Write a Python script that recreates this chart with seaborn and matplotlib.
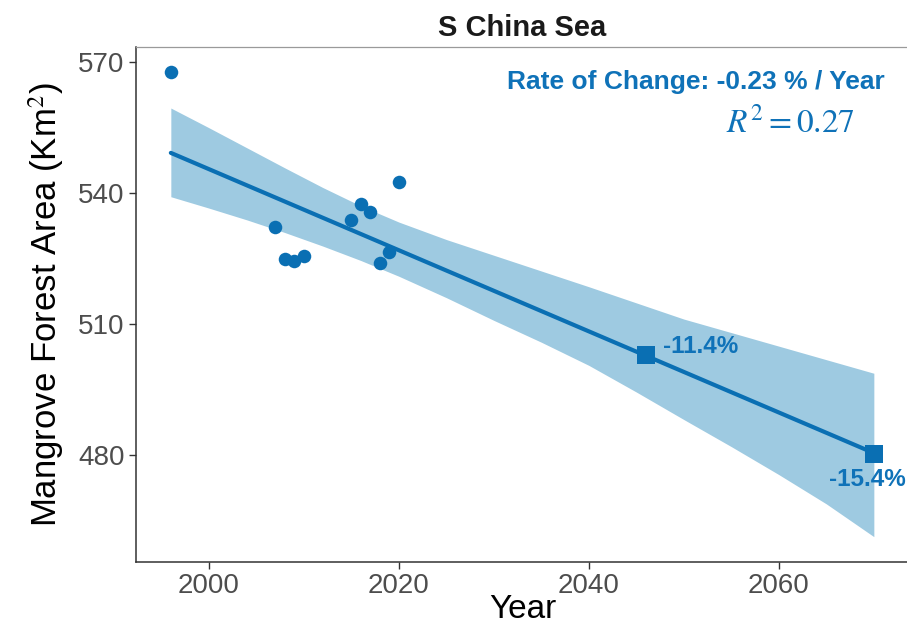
import numpy as np
import pandas as pd
import matplotlib
matplotlib.use("Agg")
import matplotlib.pyplot as plt
import seaborn as sns

# observed mangrove area (km2) per year
years = [1996, 2007, 2008, 2009, 2010, 2015, 2016, 2017, 2018, 2019, 2020]
area = [567.8, 532.2, 524.9, 524.6, 525.6, 533.9, 537.5, 535.7, 524.1, 526.6, 542.5]

# projected points on the trend line
proj_years = [2046, 2070]
proj_area = [502.9, 480.4]
proj_labels = ["-11.4%", "-15.4%"]

# confidence band
band_years = [1996, 2000, 2004, 2008, 2012, 2016, 2020, 2025, 2030, 2035,
              2040, 2045, 2050, 2055, 2060, 2065, 2070]
band_upper = [559.5, 555.0, 550.4, 545.8, 541.3, 537.1, 533.4, 529.4, 525.8, 522.2,
              518.6, 514.9, 511.2, 508.1, 505.0, 501.9, 498.8]
band_lower = [539.2, 536.6, 533.9, 531.0, 527.9, 524.6, 521.0, 516.1, 510.9, 505.9,
              500.6, 494.5, 488.2, 482.0, 475.6, 468.9, 461.4]

x_ticks = [2000, 2020, 2040, 2060]
y_ticks = [480, 510, 540, 570]

sns.set_theme(style="white")
plt.rcParams["font.family"] = ["Liberation Sans", "DejaVu Sans"]
plt.rcParams["mathtext.fontset"] = "stix"

dark = "#0a6fb3"
light = "#9ecae1"
txt_blue = "#0f72b8"

fig = plt.figure(figsize=(9.07, 6.28), dpi=100)
ax = fig.add_axes([0.1496, 0.1051, 0.8526, 0.8196])

ax.fill_between(band_years, band_lower, band_upper, color=light, lw=0, zorder=1)

# regplot fits over the current xlim when truncate=False
ax.set_xlim(min(years), max(proj_years))
df = pd.DataFrame({"Year": years, "Area": area})
sns.regplot(data=df, x="Year", y="Area", ax=ax, ci=None, truncate=False,
            color=dark,
            scatter_kws=dict(s=95, linewidths=0, alpha=1, zorder=3),
            line_kws=dict(lw=3, zorder=2))

sns.scatterplot(x=proj_years, y=proj_area, marker="s", s=170, color=dark,
                linewidth=0, ax=ax, zorder=4)

ax.annotate(proj_labels[0], (proj_years[0], proj_area[0]), xytext=(12, 6.5),
            textcoords="offset points", ha="left", va="center",
            color=txt_blue, fontsize=17.5, fontweight="bold")
ax.annotate(proj_labels[1], (proj_years[1], proj_area[1]), xytext=(-5, -10),
            textcoords="offset points", ha="center", va="top",
            color=txt_blue, fontsize=17.5, fontweight="bold")

ax.text(0.969, 0.9326, "Rate of Change: -0.23 % / Year", transform=ax.transAxes,
        ha="right", va="center", color=txt_blue, fontsize=19, fontweight="bold")
ax.text(0.93, 0.853, r"$R^2 = 0.27$", transform=ax.transAxes,
        ha="right", va="center", color=txt_blue, fontsize=24)

ax.set_xlim(1992.3, 2073.7)
ax.set_ylim(455.6, 573.4)
ax.set_xticks(x_ticks)
ax.set_yticks(y_ticks)

ax.set_title("S China Sea", fontsize=21, fontweight="bold", color="#1a1a1a", pad=8)
ax.set_xlabel("Year", fontsize=24, color="black", labelpad=-4)
ax.set_ylabel("Mangrove Forest Area (Km$^2$)", fontsize=25, color="black", labelpad=9)

ax.tick_params(axis="both", which="both", direction="out", length=5, width=1,
               color="#333333", labelsize=20, labelcolor="#4d4d4d",
               bottom=True, left=True, pad=3)

for side in ["left", "bottom"]:
    ax.spines[side].set_color("#333333")
    ax.spines[side].set_linewidth(1.1)
for side in ["top", "right"]:
    ax.spines[side].set_color("#9a9a9a")
    ax.spines[side].set_linewidth(0.9)

fig.savefig("out.png", dpi=100)
